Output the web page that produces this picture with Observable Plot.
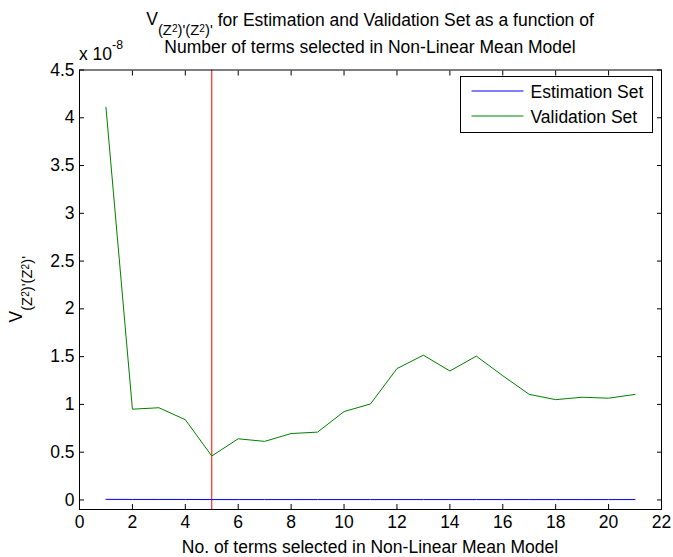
<!DOCTYPE html>
<html>
<head>
<meta charset="utf-8">
<script src="https://cdn.jsdelivr.net/npm/d3@7"></script>
<script src="https://cdn.jsdelivr.net/npm/@observablehq/plot@0.6"></script>
<style>
  html, body { margin: 0; padding: 0; background: #fff; }
  svg text { white-space: pre; }
</style>
</head>
<body>
<div id="chart"></div>
<script>
// Number of terms selected (x)
const terms = [1,2,3,4,5,6,7,8,9,10,11,12,13,14,15,16,17,18,19,20,21];
// Values in units of 1e-8
const estimationSet = [0.006,0.005,0.005,0.005,0.004,0.004,0.004,0.004,0.004,0.004,0.004,0.004,0.004,0.004,0.004,0.004,0.004,0.004,0.004,0.004,0.004];
const validationSet = [4.11,0.95,0.965,0.84,0.46,0.64,0.613,0.695,0.71,0.925,1.005,1.375,1.515,1.35,1.505,1.30,1.105,1.05,1.075,1.065,1.105];
const selectedTerms = [5];
const xTicks = [0,2,4,6,8,10,12,14,16,18,20,22];
const yTicks = [0,0.5,1,1.5,2,2.5,3,3.5,4,4.5];
const legendLabels = ["Estimation Set", "Validation Set"];
const seriesColors = ["#0000ff", "#008000"];

const estRows = terms.map((t, i) => ({t, v: estimationSet[i]}));
const valRows = terms.map((t, i) => ({t, v: validationSet[i]}));

const FS = 17.5;
const W = 673, H = 557;
const mL = 79, mR = 12, mT = 69.5, mB = 48;

const plot = Plot.plot({
  width: W, height: H,
  marginLeft: mL, marginRight: mR, marginTop: mT, marginBottom: mB,
  style: {fontFamily: "'Liberation Sans', Arial, sans-serif", fontSize: FS + "px", background: "white", color: "black", overflow: "visible"},
  x: {domain: [0, 22]},
  y: {domain: [-0.1, 4.5]},
  marks: [
    Plot.ruleX(selectedTerms, {stroke: "#ff0000", strokeWidth: 1}),
    Plot.line(estRows, {x: "t", y: "v", stroke: seriesColors[0], strokeWidth: 1}),
    Plot.line(valRows, {x: "t", y: "v", stroke: seriesColors[1], strokeWidth: 1}),
    Plot.axisX(xTicks, {anchor: "bottom", tickSize: -5, tickPadding: 11, label: null, tickFormat: d => String(d)}),
    Plot.axisX(xTicks, {anchor: "top", tickSize: -5, label: null, tickFormat: () => ""}),
    Plot.axisY(yTicks, {anchor: "left", tickSize: -5, tickPadding: 10, label: null, tickFormat: d => String(d)}),
    Plot.axisY(yTicks, {anchor: "right", tickSize: -5, label: null, tickFormat: () => ""}),
    Plot.frame({stroke: "black", strokeWidth: 1})
  ]
});

document.getElementById("chart").appendChild(plot);

const svg = d3.select(plot);
const font = "'Liberation Sans', Arial, sans-serif";
const cx = 370;

const SUB = FS * 0.85, SUP = FS * 0.58;
function subLabel(sel) {
  // V_{(Z^2)'(Z^2)'}
  sel.append("tspan").text("V");
  sel.append("tspan").attr("dy", 10).attr("font-size", SUB).text("(Z");
  sel.append("tspan").attr("dy", -3).attr("font-size", SUP).text("2");
  sel.append("tspan").attr("dy", 3).attr("font-size", SUB).text(")'(Z");
  sel.append("tspan").attr("dy", -3).attr("font-size", SUP).text("2");
  sel.append("tspan").attr("dy", 3).attr("font-size", SUB).text(")'");
}

// Title line 1
const t1 = svg.append("text")
  .attr("x", cx).attr("y", 24.5).attr("text-anchor", "middle")
  .attr("font-family", font).attr("font-size", FS).attr("fill", "black");
subLabel(t1);
t1.append("tspan").attr("dy", -9).attr("font-size", FS).text(" for Estimation and Validation Set as a function of");

// Title line 2
svg.append("text")
  .attr("x", cx).attr("y", 53).attr("text-anchor", "middle")
  .attr("font-family", font).attr("font-size", FS).attr("fill", "black")
  .text("Number of terms selected in Non-Linear Mean Model");

// Exponent
const ex = svg.append("text")
  .attr("x", mL).attr("y", 60).attr("text-anchor", "start")
  .attr("font-family", font).attr("font-size", FS).attr("fill", "black");
ex.append("tspan").text("x 10");
ex.append("tspan").attr("dy", -11).attr("font-size", FS * 0.7).text("-8");

// X label
svg.append("text")
  .attr("x", cx).attr("y", 553).attr("text-anchor", "middle")
  .attr("font-family", font).attr("font-size", FS).attr("fill", "black")
  .text("No. of terms selected in Non-Linear Mean Model");

// Y label
const yl = svg.append("text")
  .attr("transform", `translate(22,${(mT + H - mB) / 2}) rotate(-90)`)
  .attr("text-anchor", "middle")
  .attr("font-family", font).attr("font-size", FS).attr("fill", "black");
subLabel(yl);

// Legend
const lg = svg.append("g");
const lx = 460.5, ly = 76.5, lw = 192, lh = 56;
lg.append("rect").attr("x", lx).attr("y", ly).attr("width", lw).attr("height", lh)
  .attr("fill", "white").attr("stroke", "black").attr("stroke-width", 1);
legendLabels.forEach((lab, i) => {
  const yy = ly + 14.5 + i * 25;
  lg.append("line").attr("x1", lx + 11).attr("x2", lx + 63).attr("y1", yy).attr("y2", yy)
    .attr("stroke", seriesColors[i]).attr("stroke-width", 1);
  lg.append("text").attr("x", lx + 70).attr("y", yy + 6.5).attr("text-anchor", "start")
    .attr("font-family", font).attr("font-size", FS).attr("fill", "black").text(lab);
});
</script>
</body>
</html>
